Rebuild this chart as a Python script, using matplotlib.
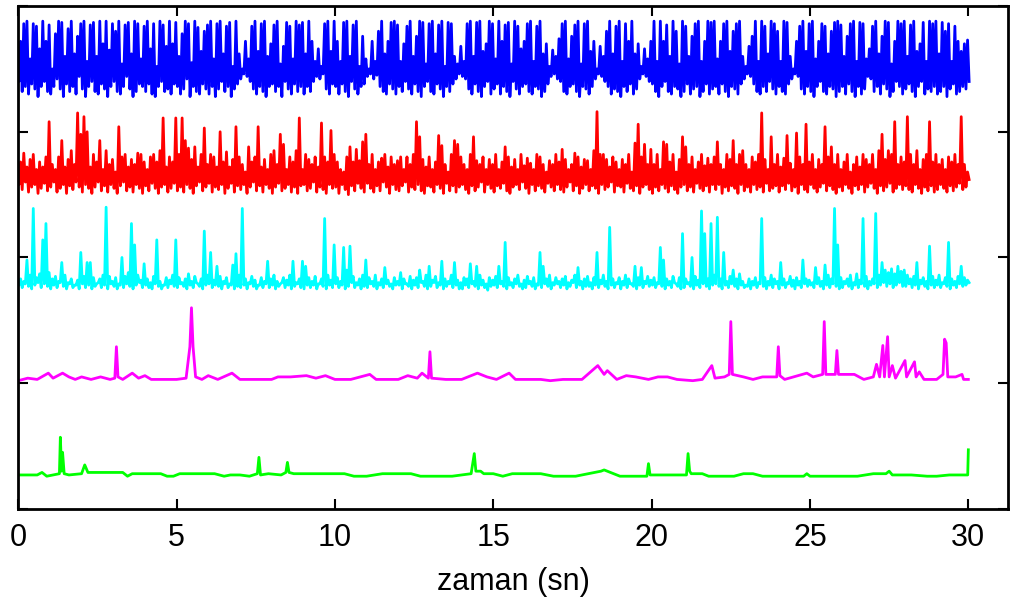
import matplotlib
matplotlib.use("Agg")
import matplotlib.pyplot as plt
import numpy as np

# Stacked channel traces (units of 0.01).
# The three upper channels are so dense that they are kept as the upper
# and lower excursion in every 0.1 s bin.
dt = 0.1  # [s]

blue_hi = [
    352, 372, 386, 388, 358, 386, 384, 366, 388, 372,
    385, 350, 378, 388, 387, 360, 382, 388, 362, 376,
    386, 388, 356, 385, 387, 360, 388, 370, 388, 365,
    386, 380, 388, 354, 385, 387, 362, 388, 386, 358,
    384, 388, 366, 386, 352, 388, 385, 368, 388, 370,
    387, 360, 378, 388, 386, 355, 388, 383, 364, 380,
    385, 388, 358, 386, 388, 362, 384, 387, 352, 388,
    362, 350, 372, 358, 384, 388, 364, 386, 388, 360,
    370, 385, 388, 354, 368, 387, 384, 358, 388, 385,
    387, 362, 388, 372, 356, 366, 352, 386, 388, 364,
    388, 372, 356, 387, 388, 360, 385, 388, 352, 376,
    358, 350, 372, 356, 380, 388, 362, 372, 387, 388,
    385, 356, 370, 384, 388, 360, 376, 388, 387, 354,
    386, 388, 362, 385, 388, 352, 387, 386, 360, 354,
    368, 356, 386, 388, 360, 387, 388, 364, 370, 388,
    386, 358, 388, 372, 385, 387, 354, 388, 384, 366,
    372, 386, 388, 356, 384, 388, 362, 370, 352, 365,
    360, 374, 386, 388, 358, 376, 385, 388, 354, 386,
    388, 364, 372, 350, 368, 360, 380, 388, 362, 384,
    388, 356, 386, 372, 388, 362, 370, 352, 366, 358,
    372, 388, 356, 388, 372, 385, 360, 388, 380, 354,
    388, 384, 360, 376, 386, 388, 356, 372, 388, 387,
    388, 358, 372, 386, 388, 364, 380, 386, 388, 360,
    352, 368, 376, 388, 356, 388, 384, 362, 388, 386,
    380, 356, 388, 387, 360, 350, 372, 384, 388, 364,
    386, 388, 358, 372, 386, 384, 362, 380, 387, 388,
    385, 360, 376, 386, 388, 356, 387, 386, 358, 366,
    384, 388, 362, 376, 388, 387, 354, 372, 388, 386,
    388, 360, 385, 388, 364, 370, 387, 356, 388, 386,
    388, 362, 387, 380, 386, 356, 384, 372, 364, 370,
    373,
]
blue_lo = [
    340, 332, 336, 330, 338, 334, 328, 336, 340, 332,
    330, 336, 342, 334, 328, 338, 332, 336, 330, 344,
    334, 328, 336, 340, 332, 330, 338, 334, 328, 336,
    340, 332, 330, 336, 344, 334, 328, 332, 338, 336,
    332, 338, 330, 328, 336, 340, 332, 334, 330, 338,
    336, 330, 334, 342, 328, 336, 332, 330, 338, 334,
    330, 336, 328, 334, 340, 332, 336, 328, 334, 338,
    342, 346, 344, 340, 334, 330, 336, 332, 328, 336,
    338, 332, 336, 328, 340, 334, 330, 338, 332, 336,
    330, 336, 332, 340, 344, 342, 346, 334, 330, 338,
    336, 330, 338, 332, 328, 340, 334, 330, 336, 338,
    344, 346, 342, 345, 336, 332, 330, 338, 334, 330,
    336, 332, 340, 334, 330, 338, 332, 328, 336, 340,
    332, 330, 338, 334, 328, 336, 332, 338, 342, 346,
    344, 342, 334, 330, 338, 332, 328, 336, 340, 330,
    334, 338, 330, 336, 332, 328, 340, 334, 330, 336,
    338, 332, 330, 336, 334, 328, 332, 338, 344, 346,
    342, 340, 332, 330, 336, 338, 332, 328, 336, 334,
    330, 336, 342, 346, 344, 340, 336, 330, 334, 332,
    328, 336, 332, 338, 330, 334, 342, 346, 344, 340,
    338, 332, 328, 336, 340, 332, 330, 336, 334, 328,
    332, 338, 330, 334, 336, 328, 332, 338, 330, 334,
    336, 330, 338, 332, 328, 336, 334, 330, 338, 342,
    346, 344, 338, 332, 330, 336, 332, 340, 334, 330,
    336, 332, 330, 338, 342, 346, 344, 334, 330, 336,
    332, 328, 336, 340, 332, 330, 336, 334, 328, 332,
    336, 330, 338, 332, 328, 336, 330, 334, 344, 342,
    332, 336, 330, 338, 334, 328, 332, 340, 336, 330,
    334, 338, 332, 328, 336, 340, 330, 334, 332, 336,
    330, 332, 336, 328, 334, 338, 330, 332, 336, 334,
    340,
]

red_hi = [
    268, 276, 283, 272, 278, 282, 270, 276, 272, 280,
    308, 274, 270, 280, 293, 272, 278, 285, 274, 315,
    298, 312, 300, 272, 282, 276, 293, 270, 285, 274,
    278, 268, 304, 280, 282, 272, 278, 274, 283, 282,
    276, 270, 280, 282, 276, 285, 311, 272, 280, 276,
    311, 282, 311, 293, 287, 278, 288, 272, 282, 303,
    274, 282, 280, 272, 300, 276, 284, 272, 278, 304,
    280, 274, 268, 288, 276, 280, 304, 272, 278, 270,
    282, 285, 274, 298, 290, 270, 280, 276, 285, 311,
    270, 282, 278, 274, 280, 272, 307, 280, 276, 301,
    282, 276, 270, 268, 280, 288, 276, 286, 277, 292,
    298, 274, 282, 270, 276, 279, 282, 272, 280, 274,
    277, 280, 270, 280, 274, 282, 308, 296, 278, 272,
    280, 270, 276, 297, 289, 274, 268, 282, 293, 290,
    280, 274, 270, 282, 296, 277, 274, 280, 270, 278,
    274, 282, 270, 276, 288, 280, 272, 278, 270, 282,
    273, 279, 275, 270, 282, 280, 274, 268, 277, 274,
    282, 276, 286, 278, 270, 274, 283, 280, 272, 278,
    277, 270, 285, 316, 282, 282, 278, 272, 280, 276,
    270, 278, 274, 282, 268, 291, 306, 280, 290, 274,
    286, 274, 282, 270, 292, 290, 276, 282, 268, 278,
    296, 288, 274, 280, 270, 276, 282, 273, 279, 274,
    280, 292, 274, 270, 282, 278, 293, 274, 282, 285,
    274, 270, 280, 276, 282, 315, 278, 270, 296, 274,
    282, 272, 279, 297, 275, 270, 299, 280, 274, 306,
    276, 282, 270, 278, 274, 304, 280, 288, 274, 282,
    270, 276, 282, 268, 274, 280, 272, 282, 278, 274,
    282, 270, 285, 298, 278, 285, 282, 308, 274, 280,
    276, 312, 282, 274, 285, 270, 278, 282, 308, 276,
    282, 274, 278, 270, 280, 276, 282, 274, 312, 274,
    268,
]
red_lo = [
    258, 254, 260, 252, 256, 258, 251, 255, 259, 253,
    256, 260, 252, 255, 258, 251, 257, 254, 260, 256,
    252, 258, 255, 251, 256, 260, 253, 257, 252, 258,
    255, 251, 257, 260, 253, 256, 252, 258, 255, 251,
    257, 253, 259, 255, 251, 256, 258, 252, 255, 259,
    253, 256, 252, 258, 255, 251, 257, 260, 253, 256,
    259, 252, 256, 254, 258, 251, 255, 259, 252, 257,
    254, 258, 251, 256, 260, 253, 257, 252, 258, 255,
    251, 256, 259, 253, 255, 258, 252, 256, 251, 257,
    258, 253, 255, 260, 252, 256, 254, 251, 258, 255,
    256, 251, 258, 254, 250, 257, 253, 259, 255, 252,
    259, 255, 252, 257, 253, 260, 256, 251, 258, 254,
    253, 257, 260, 252, 256, 254, 258, 253, 251, 257,
    256, 252, 258, 255, 251, 259, 253, 257, 252, 256,
    258, 254, 251, 257, 253, 256, 260, 252, 258, 255,
    252, 257, 255, 259, 253, 251, 256, 258, 254, 260,
    255, 251, 258, 253, 257, 255, 252, 259, 256, 253,
    258, 254, 252, 256, 260, 253, 257, 251, 255, 258,
    253, 257, 255, 251, 258, 254, 256, 260, 252, 257,
    256, 252, 259, 255, 253, 257, 251, 256, 258, 254,
    251, 256, 253, 258, 255, 252, 257, 254, 251, 256,
    258, 253, 256, 252, 259, 255, 253, 257, 252, 258,
    254, 258, 251, 256, 253, 257, 255, 251, 258, 253,
    256, 252, 258, 254, 256, 252, 259, 253, 255, 257,
    252, 257, 254, 259, 253, 256, 251, 258, 254, 252,
    258, 255, 252, 256, 259, 253, 257, 254, 251, 256,
    253, 258, 255, 251, 257, 254, 258, 252, 256, 259,
    255, 251, 257, 253, 256, 259, 252, 255, 258, 254,
    257, 254, 252, 258, 255, 251, 256, 253, 257, 252,
    254, 258, 255, 252, 257, 253, 256, 259, 254, 256,
    262,
]

cyan_hi = [
    178, 183, 181, 198, 186, 239, 184, 187, 214, 227,
    188, 183, 185, 181, 196, 186, 180, 183, 178, 182,
    204, 185, 196, 196, 184, 179, 183, 186, 240, 185,
    181, 184, 179, 200, 185, 188, 227, 210, 186, 182,
    195, 183, 180, 185, 214, 181, 178, 184, 182, 186,
    214, 184, 180, 183, 187, 181, 185, 179, 183, 221,
    186, 204, 182, 193, 185, 181, 184, 179, 194, 203,
    186, 239, 183, 180, 185, 182, 178, 184, 181, 197,
    183, 186, 181, 179, 184, 182, 186, 197, 180, 183,
    197, 193, 184, 181, 185, 179, 183, 231, 186, 182,
    210, 184, 181, 208, 190, 209, 185, 180, 183, 186,
    198, 184, 181, 186, 180, 183, 192, 182, 179, 184,
    181, 188, 183, 179, 185, 182, 184, 190, 181, 186,
    193, 182, 185, 180, 197, 183, 181, 186, 196, 182,
    180, 184, 183, 195, 181, 193, 186, 182, 179, 184,
    182, 185, 193, 181, 212, 184, 180, 183, 186, 179,
    182, 185, 181, 184, 179, 204, 193, 183, 186, 180,
    184, 181, 183, 185, 180, 182, 186, 192, 181, 183,
    185, 180, 184, 204, 182, 186, 181, 224, 183, 180,
    184, 181, 186, 183, 179, 193, 184, 192, 181, 185,
    182, 184, 180, 208, 198, 183, 181, 185, 179, 184,
    219, 183, 180, 200, 185, 182, 237, 219, 183, 227,
    186, 232, 183, 204, 181, 185, 190, 183, 187, 181,
    178, 183, 181, 184, 180, 231, 184, 181, 186, 183,
    181, 196, 183, 180, 185, 182, 184, 181, 198, 183,
    182, 180, 192, 184, 181, 194, 186, 183, 239, 210,
    184, 181, 183, 186, 180, 187, 182, 231, 185, 181,
    183, 235, 186, 196, 190, 188, 191, 187, 193, 189,
    190, 186, 183, 185, 196, 182, 184, 181, 209, 185,
    182, 186, 180, 184, 212, 183, 181, 185, 193, 184,
    182,
]
cyan_lo = [
    178, 176, 179, 177, 175, 178, 180, 176, 179, 177,
    175, 178, 176, 180, 177, 175, 179, 176, 178, 175,
    179, 176, 178, 175, 177, 180, 176, 178, 175, 179,
    177, 175, 178, 176, 179, 177, 175, 178, 180, 176,
    178, 176, 175, 179, 177, 175, 178, 176, 179, 177,
    176, 179, 177, 175, 178, 176, 180, 177, 175, 178,
    179, 176, 178, 177, 175, 179, 176, 178, 175, 177,
    176, 178, 175, 179, 177, 175, 178, 176, 179, 176,
    178, 175, 177, 180, 176, 178, 175, 177, 179, 176,
    175, 178, 176, 178, 175, 179, 177, 175, 178, 176,
    179, 176, 178, 175, 177, 180, 176, 178, 175, 177,
    176, 179, 177, 175, 178, 176, 179, 177, 175, 178,
    178, 175, 179, 177, 175, 178, 176, 180, 177, 175,
    177, 180, 176, 178, 175, 177, 179, 176, 178, 175,
    175, 178, 176, 179, 177, 175, 178, 176, 174, 177,
    178, 176, 179, 177, 175, 178, 176, 179, 177, 175,
    176, 179, 177, 175, 178, 176, 179, 177, 175, 178,
    179, 176, 178, 175, 177, 180, 176, 178, 175, 177,
    177, 175, 178, 176, 179, 177, 175, 178, 176, 179,
    175, 178, 176, 179, 177, 175, 178, 176, 179, 177,
    178, 176, 179, 177, 175, 178, 176, 180, 177, 175,
    176, 179, 177, 175, 178, 176, 179, 177, 175, 178,
    179, 177, 175, 178, 176, 179, 177, 175, 178, 176,
    177, 175, 178, 176, 179, 177, 175, 178, 176, 179,
    175, 178, 176, 179, 177, 175, 178, 176, 179, 177,
    178, 176, 179, 177, 175, 178, 176, 179, 177, 175,
    176, 179, 177, 175, 178, 176, 179, 177, 175, 178,
    179, 176, 178, 180, 177, 179, 176, 178, 180, 177,
    177, 179, 176, 178, 175, 179, 177, 175, 178, 176,
    178, 176, 179, 177, 175, 178, 176, 179, 177, 178,
    180,
]

# sparse traces: (time [s], value) breakpoints
magenta_t = [0.0, 0.3, 0.6, 0.95, 1.1, 1.4, 1.6, 1.8, 2.0, 2.3, 2.6, 2.9, 3.05, 3.1, 3.15,
             3.3, 3.6, 3.8, 4.0, 4.2, 4.6, 5.0, 5.3, 5.42, 5.47, 5.52, 5.6, 5.8, 6.0, 6.3,
             6.75, 7.0, 7.5, 8.0, 8.2, 8.6, 9.1, 9.4, 9.7, 10.0, 10.5, 11.1, 11.3, 12.0, 12.3,
             12.6, 12.75, 12.95, 13.0, 13.05, 13.5, 14.0, 14.5, 14.8, 15.1, 15.5, 15.7, 16.5,
             16.8, 17.2, 17.8, 18.3, 18.5, 18.6, 18.9, 19.2, 19.5, 19.9, 20.2, 20.5, 20.8,
             21.3, 21.6, 21.9, 22.0, 22.3, 22.45, 22.5, 22.55, 22.9, 23.2, 23.5, 23.95, 24.0,
             24.05, 24.2, 24.9, 25.1, 25.4, 25.45, 25.5, 25.8, 25.85, 25.9, 26.4, 26.7, 27.0,
             27.1, 27.2, 27.3, 27.35, 27.45, 27.5, 27.6, 27.7, 28.0, 28.05, 28.3, 28.35, 28.45,
             28.6, 29.0, 29.2, 29.25, 29.3, 29.35, 29.6, 29.8, 29.85, 30.0]
magenta_v = [102, 104, 103, 108, 104, 108, 105, 103, 105, 103, 105, 103, 104, 129, 105,
             103, 108, 104, 106, 103, 103, 103, 104, 129, 160, 129, 105, 103, 106, 103,
             108, 103, 103, 103, 105, 105, 106, 104, 106, 103, 103, 107, 103, 103, 106,
             104, 108, 104, 125, 104, 103, 103, 108, 105, 103, 108, 103, 103,
             102, 103, 103, 114, 107, 110, 103, 106, 105, 103, 105, 105, 103,
             102, 103, 114, 104, 105, 107, 149, 107, 105, 103, 105, 105, 129,
             106, 103, 108, 105, 107, 149, 107, 107, 126, 107, 107, 103, 105,
             115, 105, 130, 105, 137, 105, 114, 104, 118, 105, 117, 105, 109,
             103, 103, 107, 135, 132, 105, 105, 107, 103, 103]

green_t = [0.0, 0.6, 0.75, 0.9, 1.1, 1.3, 1.33, 1.37, 1.4, 1.45, 1.6, 2.0, 2.1, 2.2, 2.4,
           3.3, 3.45, 3.6, 4.5, 4.7, 4.9, 5.1, 6.2, 6.5, 6.7, 7.0, 7.3, 7.55, 7.6, 7.65, 7.9,
           8.3, 8.45, 8.5, 8.55, 8.7, 10.3, 10.6, 11.0, 11.5, 12.4, 12.7, 13.7, 14.3, 14.4,
           14.45, 14.6, 14.7, 15.0, 15.3, 15.6, 16.5, 16.9, 17.6, 18.4, 18.5, 18.6, 19.0,
           19.85, 19.9, 19.95, 20.2, 21.1, 21.15, 21.2, 21.25, 21.6, 21.8, 22.6, 22.9, 23.2,
           23.5, 24.8, 24.9, 25.0, 25.2, 26.5, 27.0, 27.4, 27.5, 27.6, 28.2, 28.7, 29.0,
           29.4, 29.7, 29.98, 30.0]
green_v = [27, 27, 29, 26, 27, 28, 57, 30, 45, 28, 27, 28, 35, 29, 29,
           29, 26, 28, 28, 26, 26, 28, 28, 26, 27, 27, 26, 28, 41, 27, 28,
           27, 29, 37, 29, 28, 28, 26, 26, 28, 28, 26, 26, 28, 44,
           30, 30, 28, 28, 26, 28, 28, 26, 26, 30, 31, 30, 26,
           26, 36, 27, 27, 27, 44, 30, 28, 28, 26, 26, 28, 28,
           26, 26, 28, 26, 26, 26, 28, 28, 30, 27, 27, 26, 26,
           27, 27, 27, 47]


def zigzag(hi, lo):
    """Alternate the upper and lower excursion of each bin along time."""
    t = np.arange(len(hi)) * dt
    tz = np.column_stack([t - dt / 4, t + dt / 4]).ravel()
    yz = np.column_stack([hi, lo]).ravel() / 100
    return tz, yz


fig = plt.figure(figsize=(10.13, 6.08), dpi=100)
ax = fig.add_axes([0.018, 0.163, 0.977, 0.827])

lw = 2.0
ax.plot(*zigzag(blue_hi, blue_lo), color='#0000ff', lw=lw)
ax.plot(*zigzag(red_hi, red_lo), color='#ff0000', lw=lw)
ax.plot(*zigzag(cyan_hi, cyan_lo), color='#00ffff', lw=lw)
ax.plot(magenta_t, np.array(magenta_v) / 100, color='#ff00ff', lw=lw)
ax.plot(green_t, np.array(green_v) / 100, color='#00ff00', lw=lw)

ax.set_xlim(0, 31.25)
ax.set_ylim(0, 4)
ax.set_xticks(np.arange(0, 31, 5))
ax.set_yticks([0, 1, 2, 3, 4])
ax.set_yticklabels([])
ax.tick_params(direction='in', top=True, right=True, length=7, width=1.5,
               labelsize=22, pad=10)
for lbl in ax.get_xticklabels():
    lbl.set_family('Liberation Sans')
for s in ax.spines.values():
    s.set_linewidth(2)

ax.set_xlabel('zaman (sn)', fontsize=22, family='Liberation Sans', labelpad=10)

fig.savefig('out.png', dpi=100)
